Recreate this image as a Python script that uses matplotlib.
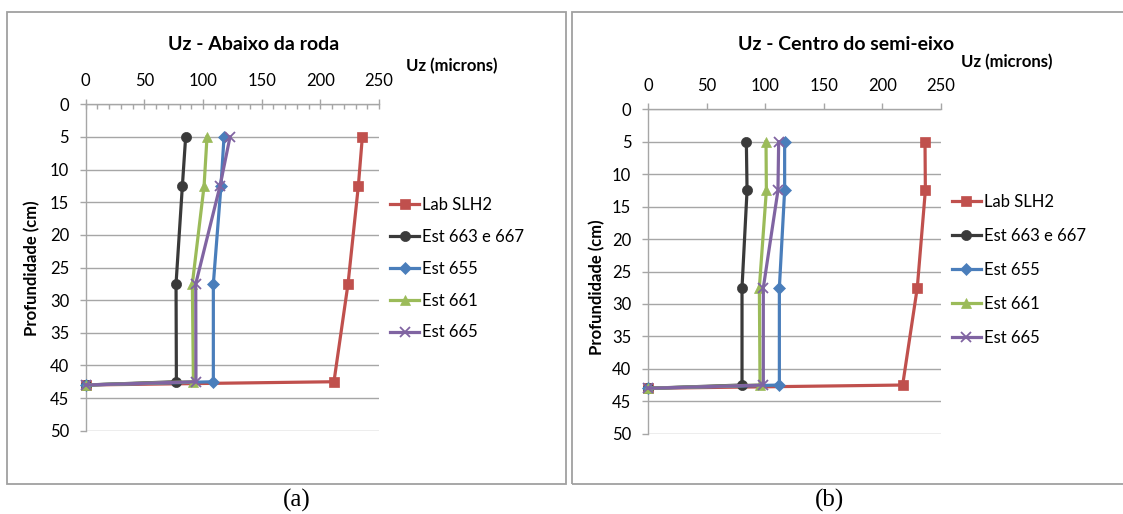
import matplotlib
matplotlib.use('Agg')
import matplotlib.pyplot as plt
from matplotlib.patches import Rectangle
from matplotlib.ticker import MultipleLocator

# ---------------- data ----------------
depth = [5, 12.5, 27.5, 42.5, 43]
series_names = ['Lab SLH2', 'Est 663 e 667', 'Est 655', 'Est 661', 'Est 665']

# (a) Abaixo da roda
a_lab = [235.8, 232.4, 223.6, 211.6, 0]
a_663 = [85.2, 82.4, 77.0, 77.3, 0]
a_655 = [117.9, 115.3, 108.8, 108.8, 0]
a_661 = [103.4, 100.9, 90.9, 91.8, 0]
a_665 = [123.0, 114.5, 93.8, 94.0, 0]

# (b) Centro do semi-eixo
b_lab = [236.6, 236.9, 230.0, 217.5, 0]
b_663 = [84.0, 84.6, 80.3, 80.3, 0]
b_655 = [116.7, 116.7, 112.2, 112.2, 0]
b_661 = [100.8, 101.1, 95.1, 95.7, 0]
b_665 = [111.6, 111.0, 98.5, 98.5, 0]

titles = ['Uz - Abaixo da roda', 'Uz - Centro do semi-eixo']
xlabel = 'Uz (microns)'
ylabel = 'Profundidade (cm)'
captions = ['(a)', '(b)']

# ---------------- style ----------------
colors = ['#C0504D', '#3A3A3A', '#4A7EBB', '#9BBB59', '#8064A2']
markers = ['s', 'o', 'D', '^', 'x']
msizes = [7.5, 7.3, 6.3, 7.8, 7.8]
FONT = ['Lato', 'DejaVu Sans']
plt.rcParams['font.family'] = FONT
GRID = '#A6A6A6'

W, H = 1123, 514
fig = plt.figure(figsize=(W / 100, H / 100), dpi=100)


def fx(px):
    return px / W


def fy(py):
    return 1 - py / H


# frames
fig.add_artist(Rectangle((fx(7.3), fy(483.7)), fx(566.3 - 7.3), (483.7 - 12.3) / H,
                         transform=fig.transFigure, fill=False, edgecolor='#A0A0A0', lw=1.3))
fig.add_artist(Rectangle((fx(572.3), fy(483.7)), fx(1130 - 572.3), (483.7 - 12.3) / H,
                         transform=fig.transFigure, fill=False, edgecolor='#A0A0A0', lw=1.3))

panels = [
    dict(data=[a_lab, a_663, a_655, a_661, a_665],
         rect=(85.7, 104.3, 379.0, 430.7), minor=True,
         title_xy=(254, 45), xl_xy=(452, 66), yl_xy=(31.7, 268),
         leg_x=390, leg_yc=268.7, leg_sp=0.95, cap_xy=(296.7, 500)),
    dict(data=[b_lab, b_663, b_655, b_661, b_665],
         rect=(648.0, 109.3, 940.7, 433.7), minor=False,
         title_xy=(846, 45), xl_xy=(1006.5, 62.3), yl_xy=(596.7, 287.5),
         leg_x=951.7, leg_yc=270.3, leg_sp=1.08, cap_xy=(829.3, 500)),
]

for i, p in enumerate(panels):
    x0, y0, x1, y1 = p['rect']
    ax = fig.add_axes([fx(x0), fy(y1), fx(x1 - x0), (y1 - y0) / H])
    handles = []
    for vals, name, c, m, ms in zip(p['data'], series_names, colors, markers, msizes):
        mew = 1.3 if m == 'x' else 0.5
        h, = ax.plot(vals, depth, color=c, lw=2.3, marker=m, markersize=ms,
                     markerfacecolor=c, markeredgecolor=c, markeredgewidth=mew,
                     label=name, zorder=3, clip_on=False)
        handles.append(h)
    ax.set_xlim(0, 250)
    ax.set_ylim(50, 0)
    ax.xaxis.set_major_locator(MultipleLocator(50))
    ax.yaxis.set_major_locator(MultipleLocator(5))
    ax.xaxis.tick_top()
    for s in ['bottom', 'right']:
        ax.spines[s].set_visible(False)
    for s in ['top', 'left']:
        ax.spines[s].set_color(GRID)
        ax.spines[s].set_linewidth(1.0)
    ax.grid(axis='y', color=GRID, lw=1.0, zorder=0)
    ax.set_axisbelow(True)
    if p['minor']:
        ax.xaxis.set_minor_locator(MultipleLocator(10))
        ax.tick_params(axis='x', which='major', direction='inout', length=7.5,
                       color=GRID, width=1.0, pad=7, labelsize=12)
        ax.tick_params(axis='x', which='minor', direction='in', length=3.6,
                       color=GRID, width=1.0, top=True, bottom=False)
    else:
        ax.tick_params(axis='x', which='major', direction='out', length=4.0,
                       color=GRID, width=1.0, pad=7, labelsize=12)
    ax.tick_params(axis='y', which='major', direction='out', length=4.0,
                   color=GRID, width=1.0, pad=8, labelsize=12)
    ax.set_facecolor('none')

    fig.text(fx(p['title_xy'][0]), fy(p['title_xy'][1]), titles[i], ha='center', va='center',
             fontsize=14, fontweight='bold')
    fig.text(fx(p['xl_xy'][0]), fy(p['xl_xy'][1]), xlabel, ha='center', va='center',
             fontsize=12, fontweight='bold')
    fig.text(fx(p['yl_xy'][0]), fy(p['yl_xy'][1]), ylabel, ha='center', va='center',
             fontsize=12, fontweight='bold', rotation=90)
    fig.text(fx(p['cap_xy'][0]), fy(p['cap_xy'][1]), captions[i], ha='center', va='center',
             fontsize=18, family=['Liberation Serif', 'DejaVu Serif'])

    ax.legend(handles=handles, loc='center left',
              bbox_to_anchor=(fx(p['leg_x']), fy(p['leg_yc'])),
              bbox_transform=fig.transFigure, frameon=False, fontsize=12,
              handlelength=1.75, handletextpad=0.2, borderpad=0, borderaxespad=0,
              labelspacing=p['leg_sp'])

fig.savefig('out.png', dpi=100)
